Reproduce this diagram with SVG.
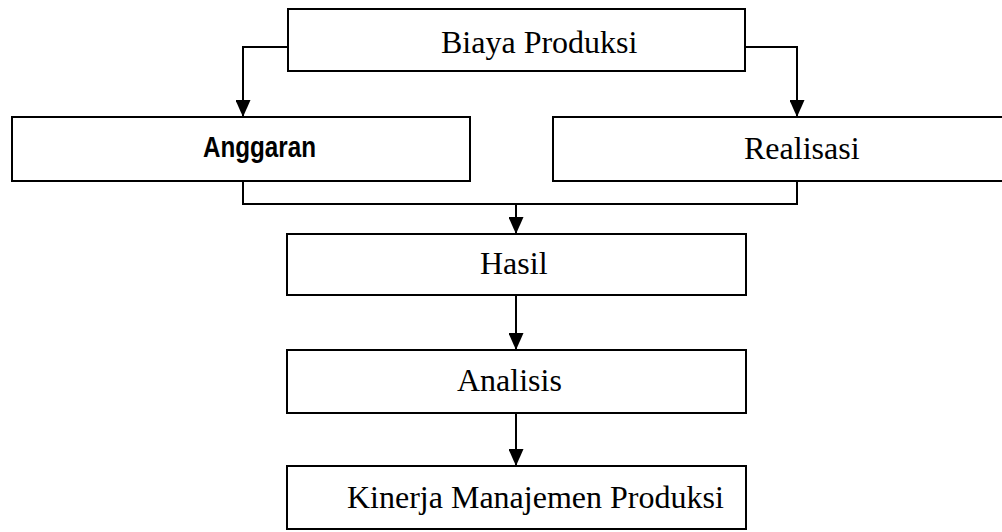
<svg xmlns="http://www.w3.org/2000/svg" width="1002" height="532" viewBox="0 0 1002 532">
<style>
.box{fill:#fff;stroke:#000;stroke-width:2}
.lbl{font-family:"Liberation Serif","Times New Roman",serif;font-size:32px;fill:#000}
.sans{font-family:"Liberation Sans",Arial,sans-serif;font-size:29px;font-weight:bold;fill:#000}
.con{fill:none;stroke:#000;stroke-width:2}
</style>
<defs>
<marker id="ah" viewBox="0 0 17 15" refX="17" refY="7.5" markerWidth="17" markerHeight="15" markerUnits="userSpaceOnUse" orient="auto">
<path d="M0,0 L17,7.5 L0,15 z" fill="#000"/>
</marker>
</defs>
<rect width="1002" height="532" fill="#fff"/>
<g id="connectors">
<path class="con" d="M288,47 H243 V117" marker-end="url(#ah)"/>
<path class="con" d="M745,47 H797 V117" marker-end="url(#ah)"/>
<path class="con" d="M243,181 V204 H797 V181"/>
<path class="con" d="M516,204 V234" marker-end="url(#ah)"/>
<path class="con" d="M516,295 V350" marker-end="url(#ah)"/>
<path class="con" d="M516,413 V466" marker-end="url(#ah)"/>
</g>
<g id="biaya">
<rect class="box" x="288" y="9" width="457" height="62"/>
<text class="lbl" x="441" y="53">Biaya Produksi</text>
</g>
<g id="anggaran">
<rect class="box" x="12" y="117" width="458" height="64"/>
<text class="sans" x="203" y="157" textLength="113" lengthAdjust="spacingAndGlyphs">Anggaran</text>
</g>
<g id="realisasi">
<rect class="box" x="553" y="117" width="460" height="64"/>
<text class="lbl" x="744" y="159">Realisasi</text>
</g>
<g id="hasil">
<rect class="box" x="287" y="234" width="459" height="61"/>
<text class="lbl" x="480" y="274">Hasil</text>
</g>
<g id="analisis">
<rect class="box" x="287" y="350" width="459" height="63"/>
<text class="lbl" x="457" y="391">Analisis</text>
</g>
<g id="kinerja">
<rect class="box" x="287" y="466" width="459" height="63"/>
<text class="lbl" x="347" y="508">Kinerja Manajemen Produksi</text>
</g>
</svg>
